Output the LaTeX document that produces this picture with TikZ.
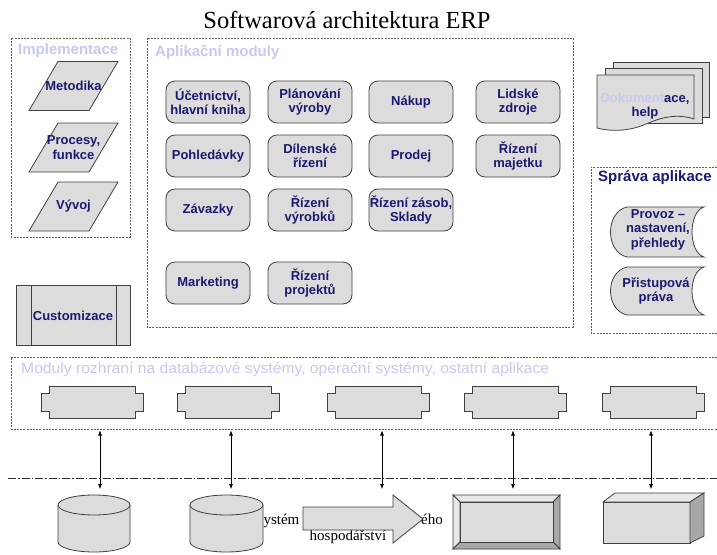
\documentclass[tikz,border=0pt]{standalone}
\usepackage{fontspec}
\usepackage{graphicx}
\setmainfont{Liberation Serif}
\newfontfamily\sansf{Liberation Sans}
\usetikzlibrary{arrows.meta}
\definecolor{navy}{RGB}{26,26,110}
\definecolor{lav}{RGB}{200,200,242}
\definecolor{boxfill}{RGB}{220,220,220}
\definecolor{edge}{RGB}{64,64,64}
\definecolor{bevlight}{RGB}{232,232,232}
\definecolor{bevdark}{RGB}{168,168,168}
\begin{document}
\begin{tikzpicture}[x=1pt,y=-1pt,
 every node/.style={inner sep=0pt},
 lbl/.style={font=\sansf\bfseries\fontsize{13}{14.5}\selectfont, text=navy, align=center},
 grp/.style={draw=edge!85, line width=0.6pt, dash pattern=on 2pt off 1.2pt},
 grplabel/.style={font=\sansf\bfseries\fontsize{15}{17}\selectfont, text=lav, anchor=west},
 shp/.style={draw=edge, fill=boxfill, line width=0.8pt},
 modbox/.style={shp, lbl, rounded corners=9pt, minimum width=84pt, minimum height=42pt},
 biarrow/.style={{Latex[length=5pt,width=4pt]}-{Latex[length=5pt,width=4pt]}, line width=0.6pt}
]
\useasboundingbox (0,0) rectangle (717,554);
\fill[white] (0,0) rectangle (717,554);

% title
\node[font=\fontsize{24.5}{28}\selectfont] (title) at (347,20) {Softwarová architektura ERP};

% Implementace
\draw[grp] (11,38) rectangle (130,237);
\node[grplabel] (implbl) at (18,51) {Implementace};
\path[shp] (58,61.5) -- (118,61.5) -- (89,110.5) -- (29,110.5) -- cycle;
\node[lbl] (meto) at (73.5,86) {Metodika};
\path[shp] (58,123) -- (118,123) -- (89,172) -- (29,172) -- cycle;
\node[lbl] (proc) at (73.5,147.5) {Procesy,\\funkce};
\path[shp] (58,182) -- (118,182) -- (89,231) -- (29,231) -- cycle;
\node[lbl] (vyvoj) at (73.5,206.5) {Vývoj};

% Customizace
\draw[shp] (16,285) rectangle (130,345);
\draw[edge, line width=0.8pt] (31,285) -- (31,345) (116,285) -- (116,345);
\node[lbl] (cust) at (73,316) {Customizace};

% Aplikacni moduly
\draw[grp] (147,38) rectangle (573,327);
\node[grplabel] (aplbl) at (155,52) {Aplikační moduly};
\node[modbox] (ucet) at (208,102) {Účetnictví,\\hlavní kniha};
\node[modbox] (plan) at (310,102) {Plánování\\výroby};
\node[modbox] (nakup) at (411,102) {Nákup};
\node[modbox] (lidske) at (518,102) {Lidské\\zdroje};
\node[modbox] (pohl) at (208,156) {Pohledávky};
\node[modbox] (dilen) at (310,156) {Dílenské\\řízení};
\node[modbox] (prodej) at (411,156) {Prodej};
\node[modbox] (majet) at (518,156) {Řízení\\majetku};
\node[modbox] (zavaz) at (208,210) {Závazky};
\node[modbox] (vyrob) at (310,210) {Řízení\\výrobků};
\node[modbox] (zasob) at (411,210) {Řízení zásob,\\Sklady};
\node[modbox] (market) at (208,283) {Marketing};
\node[modbox] (proj) at (310,283) {Řízení\\projektů};

% Dokumentace
\path[shp] (613,62) rectangle (709,117);
\path[shp] (605,68) rectangle (702,123);
\path[shp] (597,75) -- (694,75) -- (694,119)
  .. controls (676,113) and (660,118) .. (646,124)
  .. controls (630,131) and (612,132) .. (597,128) -- cycle;
\node[lbl] (dok) at (645,106) {{\color{lav}Dokument}ace,\\help};

% Sprava aplikace
\draw[grp] (717,167) -- (591,167) -- (591,333) -- (717,333);
\node[grplabel, text=navy] (spravlbl) at (598,178) {Správa aplikace};
\path[shp] (627,207) -- (704,207) .. controls (688,212) and (688,252) .. (704,257)
  -- (627,257) .. controls (605,252) and (605,212) .. (627,207) -- cycle;
\node[lbl] (provoz) at (658,229.5) {Provoz –\\nastavení,\\přehledy};
\path[shp] (627,267) -- (704,267) .. controls (688,272) and (688,310) .. (704,315)
  -- (627,315) .. controls (605,310) and (605,272) .. (627,267) -- cycle;
\node[lbl] (pristup) at (656,291) {Přistupová\\práva};

% Moduly rozhrani
\draw[grp] (717,357) -- (11,357) -- (11,429) -- (717,429);
\node[grplabel, font=\sansf\fontsize{15}{17}\selectfont] (modlbl) at (21,370)
  {\resizebox{528pt}{\height}{Moduly rozhraní na databázové systémy, operační systémy, ostatní aplikace}};
\foreach \i/\c in {1/92,2/228,3/378,4/515,5/653}{
  \path[shp] (\c-43,386) -- (\c+43,386) -- (\c+43,393) -- (\c+51,393) -- (\c+51,411)
    -- (\c+43,411) -- (\c+43,418) -- (\c-43,418) -- (\c-43,411) -- (\c-51,411)
    -- (\c-51,393) -- (\c-43,393) -- cycle;
  \coordinate (if\i) at (\c,402);
}

% arrows
\foreach \i/\a in {1/100,2/231,3/382,4/513,5/651}{
  \coordinate (top\i) at (\a,430.5);
  \coordinate (bot\i) at (\a,489);
  \draw[biarrow] (top\i) -- (bot\i);
}
\coordinate (dl) at (8,478);
\coordinate (dr) at (717,478);
\draw[line width=0.7pt, edge!70!black, dash pattern=on 8pt off 2pt on 1.5pt off 2pt] (dl) -- (dr);

% bottom text (partly hidden)
\node[font=\fontsize{15}{17}\selectfont, anchor=base west] (sys1) at (255,524) {Systém};
\node[font=\fontsize{15}{17}\selectfont, anchor=base east] (sys2) at (443,524) {ého};
\node[font=\fontsize{15}{17}\selectfont, anchor=base] (sys3) at (348,540) {hospodářství};

% cylinders
\path[shp] (58,505) -- (58,542) arc[start angle=180,end angle=0,x radius=36,y radius=10] -- (130,505) -- cycle;
\path[shp] (94,505) ellipse[x radius=36, y radius=10];
\path[shp] (190,505) -- (190,542) arc[start angle=180,end angle=0,x radius=36.5,y radius=10] -- (263,505) -- cycle;
\path[shp] (226.5,505) ellipse[x radius=36.5, y radius=10];

% big arrow
\path[shp] (303,507) -- (393,507) -- (393,495) -- (423,519) -- (393,543) -- (393,530) -- (303,530) -- cycle;

% bevel frame
\path[draw=edge, line width=0.8pt, fill=bevlight] (453,495) -- (560,495) -- (553,502) -- (460,502) -- cycle;
\path[draw=edge, line width=0.8pt, fill=bevlight] (453,495) -- (460,502) -- (460,542) -- (453,549) -- cycle;
\path[draw=edge, line width=0.8pt, fill=bevdark] (560,495) -- (560,549) -- (553,542) -- (553,502) -- cycle;
\path[draw=edge, line width=0.8pt, fill=bevdark] (453,549) -- (560,549) -- (553,542) -- (460,542) -- cycle;
\path[shp] (460,502) rectangle (553,542);

% 3D box
\path[shp] (603,502) rectangle (690,543);
\path[draw=edge, line width=0.8pt, fill=bevlight] (603,502) -- (615,493) -- (704,493) -- (690,502) -- cycle;
\path[draw=edge, line width=0.8pt, fill=bevdark] (690,502) -- (704,493) -- (704,536) -- (690,543) -- cycle;
\end{tikzpicture}
\end{document}
